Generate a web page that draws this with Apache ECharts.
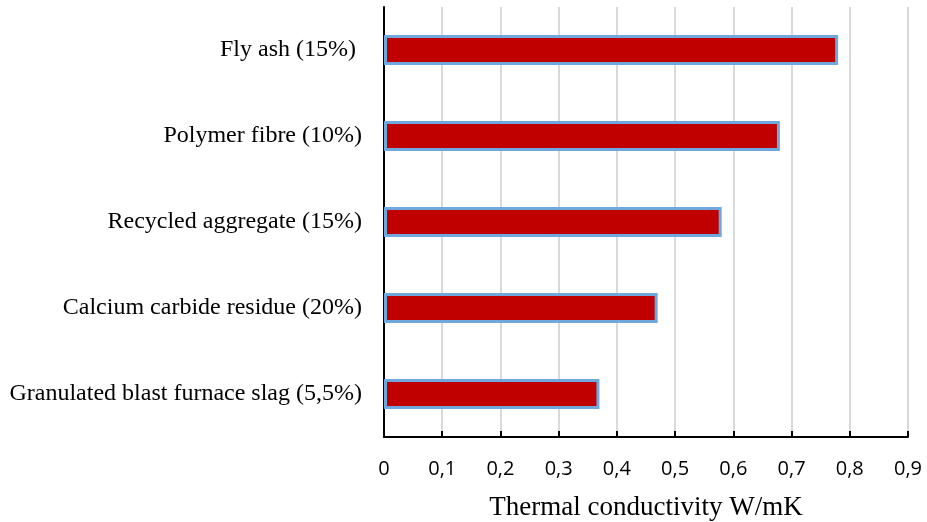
<!DOCTYPE html>
<html>
<head>
<meta charset="utf-8">
<script src="https://cdn.jsdelivr.net/npm/echarts@6/dist/echarts.min.js"></script>
<style>
  html, body { margin: 0; padding: 0; background: #fff; }
  #chart { width: 927px; height: 522px; }
</style>
</head>
<body>
<div id="chart"></div>
<script>
// Additives, listed bottom to top as drawn on the category axis
const categories = [
  'Granulated blast furnace slag (5,5%)',
  'Calcium carbide residue (20%)',
  'Recycled aggregate (15%)',
  'Polymer fibre (10%)',
  'Fly ash (15%) '
];
// Thermal conductivity values, W/mK
const conductivity = [0.37, 0.47, 0.58, 0.68, 0.78];

const xMin = 0;
const xMax = 0.9;
const xStep = 0.1;

const chart = echarts.init(document.getElementById('chart'), null, { renderer: 'canvas' });

chart.setOption({
  animation: false,
  grid: {
    left: 384, right: 19, top: 7, bottom: 85,
    containLabel: false,
    outerBoundsMode: 'none'
  },
  xAxis: {
    type: 'value',
    min: xMin,
    max: xMax,
    interval: xStep,
    name: 'Thermal conductivity W/mK',
    nameLocation: 'middle',
    nameGap: 57,
    nameTextStyle: { fontFamily: 'Liberation Serif', fontSize: 27, color: '#000' },
    axisLine: { show: true, lineStyle: { color: '#000', width: 2 } },
    axisTick: { show: true, inside: true, length: 6, lineStyle: { color: '#000', width: 2 } },
    axisLabel: {
      margin: 22,
      fontFamily: 'Open Sans',
      fontSize: 20,
      color: '#000',
      formatter: v => String(Math.round(v * 10) / 10).replace('.', ',')
    },
    splitLine: { show: true, lineStyle: { color: '#d9d9d9', width: 2 } }
  },
  yAxis: {
    type: 'category',
    data: categories,
    axisLine: { show: true, lineStyle: { color: '#000', width: 2 } },
    axisTick: { show: false },
    axisLabel: {
      margin: 22,
      fontFamily: 'Liberation Serif',
      fontSize: 24,
      color: '#000'
    },
    splitLine: { show: false }
  },
  series: [{
    type: 'bar',
    data: conductivity,
    barWidth: 30,
    itemStyle: {
      color: '#c00000',
      borderColor: '#6fa8dc',
      borderWidth: 3
    }
  }]
});
</script>
</body>
</html>
